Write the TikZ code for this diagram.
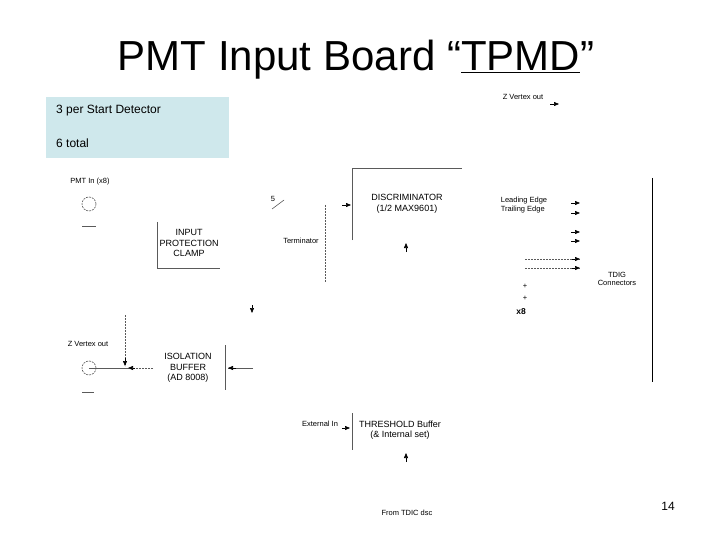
\documentclass[tikz,border=0pt]{standalone}
\usepackage{fontspec}
\setmainfont{Liberation Sans}
\usetikzlibrary{arrows.meta,calc}
\definecolor{boxblue}{RGB}{207,232,236}
\definecolor{ln}{RGB}{90,90,90}
\begin{document}
\begin{tikzpicture}[x=1pt,y=-1pt,
  sm/.style={font=\fontsize{7.5}{8.5}\selectfont,align=center,inner sep=0pt},
  md/.style={font=\fontsize{9}{10.5}\selectfont,align=center,inner sep=0pt},
  wire/.style={draw=ln,line width=0.6pt},
  dw/.style={draw=ln,line width=0.6pt,dashed,dash pattern=on 2pt off 1pt},
  tip/.style={-{Triangle[length=5pt,width=4pt]},line width=0.6pt}]
\useasboundingbox (0,0) rectangle (720,540);
\node[font=\fontsize{42}{48}\selectfont] (title) at (356,60) {PMT Input Board “\underline{TPMD}”};
\node[fill=boxblue,minimum width=183pt,minimum height=61pt,inner sep=0pt] (info) at (137.5,127.5) {};
\node[anchor=west,font=\fontsize{12}{14}\selectfont,inner sep=0pt] (i1) at (56,111) {3 per Start Detector};
\node[anchor=west,font=\fontsize{12}{14}\selectfont,inner sep=0pt] (i2) at (56,143) {6 total};
\node[sm] (zv1) at (523,97) {Z Vertex out};
\coordinate (zv1a) at (550,104); \coordinate (zv1b) at (559,104);
\draw[tip] (zv1a) -- (zv1b);
% PMT in
\node[sm] (pmt) at (90,182) {PMT In (x8)};
\node[circle,dw,minimum size=14pt,inner sep=0pt] (c1) at (89,204) {};
\coordinate (g1a) at (82,226); \coordinate (g1b) at (96,226);
\draw[wire] (g1a) -- (g1b);
% clamp
\node[md] (clamp) at (189,243) {INPUT\\PROTECTION\\CLAMP};
\coordinate (cl1) at (157,222); \coordinate (cl2) at (157,268); \coordinate (cl3) at (220,268);
\draw[wire] (cl1) -- (cl2) -- (cl3);
\node[sm] (five) at (273,199) {5};
\coordinate (s1) at (272,209); \coordinate (s2) at (284,200);
\draw[wire] (s1) -- (s2);
\coordinate (t1) at (325,205); \coordinate (t2) at (325,282);
\draw[dw] (t1) -- (t2);
\node[sm] (term) at (301,241) {Terminator};
% discriminator
\coordinate (da) at (342,205); \coordinate (db) at (351,205);
\draw[tip] (da) -- (db);
\coordinate (d1) at (352,240); \coordinate (d2) at (352,168); \coordinate (d3) at (462,168);
\draw[wire] (d1) -- (d2) -- (d3);
\node[md] (disc) at (407,204) {DISCRIMINATOR\\(1/2 MAX9601)};
\coordinate (du1) at (406,252); \coordinate (du2) at (406,243);
\draw[tip] (du1) -- (du2);
\node[sm,align=left] (le) at (524,205) {Leading Edge\\Trailing Edge};
\foreach \yy/\nm in {203/a,213/b,232/c,241/d}{
  \coordinate (o\nm1) at (571,\yy); \coordinate (o\nm2) at (580,\yy);
  \draw[tip] (o\nm1) -- (o\nm2);}
\foreach \yy/\nm in {259/e,268/f}{
  \coordinate (o\nm1) at (525,\yy); \coordinate (o\nm2) at (580,\yy);
  \draw[dw] (o\nm1) -- (o\nm2);
  \draw[tip] ($(o\nm2)+(-8,0)$) -- (o\nm2);}
\node[sm] (tdig) at (617,279) {TDIG\\Connectors};
\coordinate (v1) at (652,178); \coordinate (v2) at (652,382);
\draw[line width=0.8pt] (v1) -- (v2);
\node[sm] (p1) at (525,286) {+};
\node[sm] (p2) at (525,298) {+};
\node[font=\bfseries\fontsize{8.5}{9}\selectfont,inner sep=0pt] (x8) at (521,312) {x8};
\coordinate (dd1) at (252,305); \coordinate (dd2) at (252,313);
\draw[tip] (dd1) -- (dd2);
% Z vertex out left
\node[sm] (zv2) at (88,344) {Z Vertex out};
\node[circle,dw,minimum size=14pt,inner sep=0pt] (c2) at (89,368) {};
\coordinate (zl1) at (128,368); \coordinate (zl2) at (153,368);
\draw[wire] (c2.center) -- (zl1);
\draw[dw] (zl2) -- (zl1);
\draw[tip] (135,368) -- (zl1);
\coordinate (zd1) at (125,315); \coordinate (zd2) at (125,366);
\draw[dw] (zd1) -- (zd2);
\draw[tip] (125,358) -- (zd2);
\coordinate (g2a) at (82,392); \coordinate (g2b) at (94,392);
\draw[wire] (g2a) -- (g2b);
\node[md] (iso) at (188,368) {ISOLATION\\BUFFER\\(AD 8008)};
\coordinate (ib1) at (225,345); \coordinate (ib2) at (225,390);
\draw[wire] (ib1) -- (ib2);
\coordinate (ia1) at (253,368); \coordinate (ia2) at (228,368);
\draw[wire] (ia1) -- (ia2);
\draw[tip] (236,368) -- (ia2);
% threshold
\node[sm] (ext) at (320,424) {External In};
\coordinate (ea1) at (342,428); \coordinate (ea2) at (350,428);
\draw[tip] (ea1) -- (ea2);
\coordinate (tb1) at (352,413); \coordinate (tb2) at (352,450);
\draw[wire] (tb1) -- (tb2);
\node[md] (thr) at (400,430) {THRESHOLD Buffer\\(\& Internal set)};
\coordinate (tu1) at (406,462); \coordinate (tu2) at (406,453);
\draw[tip] (tu1) -- (tu2);
\node[sm] (tdic) at (407,513) {From TDIC dsc};
\node[font=\fontsize{12}{14}\selectfont,inner sep=0pt] (pg) at (668,506) {14};
\end{tikzpicture}
\end{document}
